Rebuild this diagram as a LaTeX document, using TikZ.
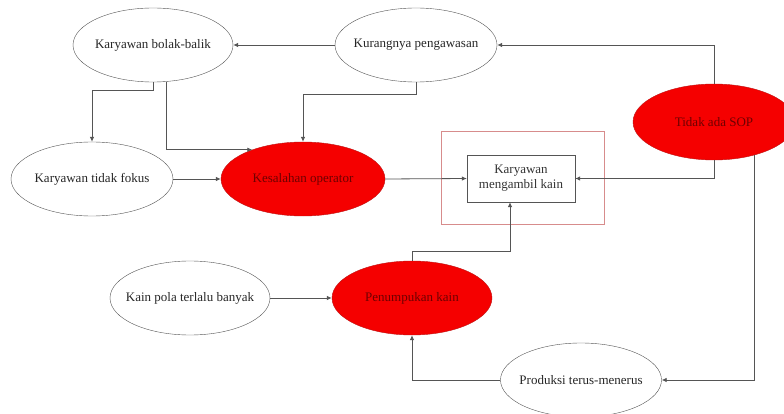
\documentclass[tikz,border=0pt]{standalone}
\usepackage{fontspec}
\setmainfont{Liberation Serif}
\usetikzlibrary{shapes.geometric,arrows.meta}
\definecolor{redfill}{RGB}{245,0,0}
\definecolor{redline}{RGB}{190,20,20}
\definecolor{redtext}{RGB}{110,0,0}
\definecolor{linecol}{RGB}{85,85,85}
\definecolor{framecol}{RGB}{215,140,140}
\tikzset{
  base/.style={font=\fontsize{13}{15}\selectfont, inner sep=0pt, align=center},
  ebase/.style={base, ellipse, inner xsep=-30pt, inner ysep=-6pt},
  wnode/.style={ebase, draw=linecol, fill=white, text=black!85, minimum width=160pt, minimum height=74pt},
  rnode/.style={ebase, draw=redline, fill=redfill, text=redtext, minimum width=164pt, minimum height=74pt},
  boxnode/.style={base, rectangle, draw=linecol, fill=white, text=black!80, minimum width=108pt, minimum height=47pt},
  arr/.style={draw=linecol, line width=0.8pt, -{Latex[length=5pt,width=4.5pt]}}
}
\begin{document}
\begin{tikzpicture}[x=1pt,y=-1pt]
\clip (0,0) rectangle (784,414);
\useasboundingbox (0,0) rectangle (784,414);
\fill[white] (0,0) rectangle (784,414);

\node[wnode] (bol) at (153,45) {Karyawan bolak-balik};
\node[wnode, minimum width=162pt] (kur) at (416,45) {Kurangnya pengawasan};
\node[rnode, minimum width=162pt, minimum height=76pt] (sop) at (714,122) {Tidak ada SOP};
\node[wnode, minimum width=162pt] (tf) at (92,179) {Karyawan tidak fokus};
\node[rnode] (kes) at (303,179) {Kesalahan operator};
\node[boxnode] (box) at (521,178.5) {Karyawan\\mengambil kain};
\draw[framecol, line width=0.8pt] (441,131) rectangle (604,224);
\node[wnode] (kp) at (190,298) {Kain pola terlalu banyak};
\node[rnode, minimum width=160pt] (pen) at (412,298) {Penumpukan kain};
\node[wnode, minimum width=161pt] (prod) at (581,380) {Produksi terus-menerus};

\draw[arr] (kur.west) -- (bol.east);
\draw[arr] (bol.south) -- ++(0,8) -| (tf.north);
\draw[arr] (bol.-70) |- (kes.150);
\draw[arr] (kur.south) -- ++(0,12) -| (kes.north);
\draw[arr] (tf.east) -- (kes.west);
\draw[arr] (kes.east) -- (box.west);
\draw[arr] (sop.north) |- (kur.east);
\draw[arr] (sop.south) |- (box.east);
\draw[arr] (sop.-39.5) |- (prod.east);
\draw[arr] (pen.north) -- ++(0,-9) -| ([xshift=-11pt]box.south);
\draw[arr] (prod.west) -| (pen.south);
\draw[arr] (kp.east) -- (pen.west);
\end{tikzpicture}
\end{document}
